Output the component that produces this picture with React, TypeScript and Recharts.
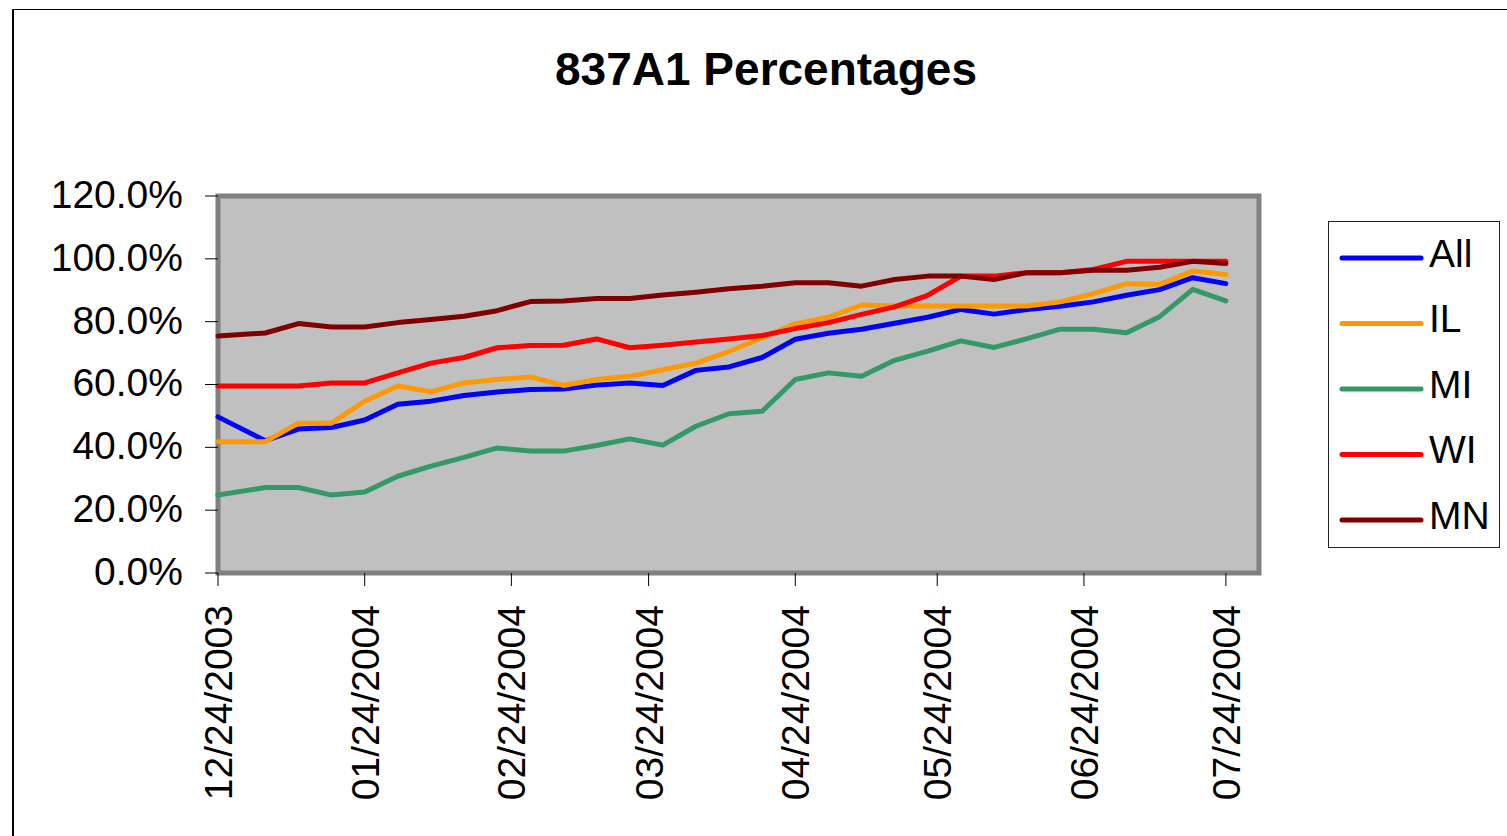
import { Legend, Line, LineChart, ReferenceArea, XAxis, YAxis } from "recharts"

const FONT = '"Liberation Sans", Arial, Helvetica, sans-serif'

// weekly report dates (first point is the baseline on 12/24/2003)
const dates = [
  "2003-12-24", "2004-01-03", "2004-01-10", "2004-01-17", "2004-01-24", "2004-01-31",
  "2004-02-07", "2004-02-14", "2004-02-21", "2004-02-28", "2004-03-06", "2004-03-13",
  "2004-03-20", "2004-03-27", "2004-04-03", "2004-04-10", "2004-04-17", "2004-04-24",
  "2004-05-01", "2004-05-08", "2004-05-15", "2004-05-22", "2004-05-29", "2004-06-05",
  "2004-06-12", "2004-06-19", "2004-06-26", "2004-07-03", "2004-07-10", "2004-07-17",
  "2004-07-24",
]

const allPct = [
  49.7, 42.1, 45.8, 46.3, 48.7, 53.7, 54.7, 56.5, 57.6, 58.4, 58.6, 59.8, 60.5, 59.7, 64.5,
  65.6, 68.6, 74.4, 76.3, 77.6, 79.5, 81.4, 83.9, 82.4, 83.9, 84.9, 86.3, 88.4, 90.2, 94.0, 92.1,
]
const ilPct = [
  41.8, 41.8, 47.7, 47.7, 54.7, 59.5, 57.7, 60.5, 61.6, 62.4, 59.7, 61.6, 62.6, 64.7, 66.8,
  70.5, 74.9, 79.3, 81.4, 85.3, 85.0, 85.0, 85.0, 85.0, 85.0, 86.3, 88.9, 92.1, 91.9, 96.1, 95.0,
]
const miPct = [
  24.8, 27.2, 27.2, 24.8, 25.8, 30.8, 34.0, 36.8, 39.8, 38.8, 38.8, 40.6, 42.7, 40.7, 46.7,
  50.7, 51.5, 61.6, 63.7, 62.6, 67.7, 70.6, 73.9, 71.8, 74.6, 77.6, 77.6, 76.5, 81.6, 90.3, 86.6,
]
const wiPct = [
  59.5, 59.5, 59.5, 60.5, 60.5, 63.7, 66.8, 68.6, 71.7, 72.4, 72.5, 74.5, 71.7, 72.5, 73.5,
  74.5, 75.6, 77.8, 79.7, 82.3, 84.7, 88.4, 94.5, 94.5, 95.6, 95.6, 96.6, 99.2, 99.2, 99.2, 99.2,
]
const mnPct = [
  75.4, 76.4, 79.4, 78.3, 78.3, 79.7, 80.7, 81.7, 83.5, 86.4, 86.6, 87.4, 87.4, 88.5, 89.4,
  90.5, 91.3, 92.4, 92.4, 91.3, 93.4, 94.5, 94.5, 93.4, 95.6, 95.6, 96.4, 96.4, 97.3, 99.2, 98.5,
]

const seriesNames = ["All", "IL", "MI", "WI", "MN"]
const seriesColors = ["#0000FF", "#FF9900", "#339966", "#FF0000", "#800000"]
const seriesValues = [allPct, ilPct, miPct, wiPct, mnPct]

const monthTicks = [
  "2003-12-24", "2004-01-24", "2004-02-24", "2004-03-24",
  "2004-04-24", "2004-05-24", "2004-06-24", "2004-07-24",
]
const axisEnd = "2004-07-31"
const yTicks = [0, 20, 40, 60, 80, 100, 120]

const toDay = (iso: string) => {
  const [y, m, d] = iso.split("-").map(Number)
  const [y0, m0, d0] = dates[0].split("-").map(Number)
  return Math.round((Date.UTC(y, m - 1, d) - Date.UTC(y0, m0 - 1, d0)) / 86400000)
}

const fromDay = (day: number) => {
  const [y0, m0, d0] = dates[0].split("-").map(Number)
  const dt = new Date(Date.UTC(y0, m0 - 1, d0) + day * 86400000)
  const mm = String(dt.getUTCMonth() + 1).padStart(2, "0")
  const dd = String(dt.getUTCDate()).padStart(2, "0")
  return `${mm}/${dd}/${dt.getUTCFullYear()}`
}

const data = dates.map((date, i) => {
  const row: Record<string, number> = { day: toDay(date) }
  seriesNames.forEach((name, s) => {
    row[name] = seriesValues[s][i]
  })
  return row
})

const DateTick = (props: any) => {
  const { x, y, payload } = props
  return (
    <text
      x={x}
      y={y}
      transform={`rotate(-90, ${x}, ${y})`}
      textAnchor="end"
      dy="0.36em"
      fontSize={39}
      fontFamily={FONT}
      fill="#000"
    >
      {fromDay(payload.value)}
    </text>
  )
}

const LegendBox = (props: any) => {
  const items = [...(props.payload ?? [])].sort(
    (a: any, b: any) => seriesNames.indexOf(a.value) - seriesNames.indexOf(b.value),
  )
  return (
    <svg width={172} height={327} style={{ display: "block" }}>
      <rect x={0.5} y={0.5} width={171} height={326} fill="#fff" stroke="#222" strokeWidth={1} />
      {items.map((item: any, i: number) => {
        const cy = 37 + i * 65.5
        return (
          <g key={item.value}>
            <line x1={14} x2={93} y1={cy} y2={cy} stroke={item.color} strokeWidth={5} strokeLinecap="round" />
            <text x={101} y={cy + 8.5} fontSize={39} fontFamily={FONT} fill="#000">
              {item.value}
            </text>
          </g>
        )
      })}
    </svg>
  )
}

export default function App() {
  return (
    <div
      style={{
        position: "absolute",
        left: 0,
        top: 0,
        width: 1507,
        height: 836,
        overflow: "hidden",
        background: "#fff",
        fontFamily: FONT,
      }}
    >
      <div
        style={{
          position: "absolute",
          left: 12,
          top: 9,
          width: 1600,
          height: 1000,
          borderTop: "1px solid #000",
          borderLeft: "2px solid #000",
        }}
      />
      <div
        style={{
          position: "absolute",
          left: 0,
          top: 46,
          width: 1532,
          textAlign: "center",
          fontSize: 46,
          lineHeight: "46px",
          fontWeight: "bold",
          color: "#000",
        }}
      >
        837A1 Percentages
      </div>
      <div style={{ position: "absolute", left: 0, top: 0 }}>
        <LineChart width={1507} height={836} data={data} margin={{ top: 196, right: 248, bottom: 0, left: 0 }}>
          <XAxis
            dataKey="day"
            type="number"
            domain={[0, toDay(axisEnd)]}
            ticks={monthTicks.map(toDay)}
            interval={0}
            height={263}
            axisLine={false}
            tickLine={{ stroke: "#000", strokeWidth: 1 }}
            tickSize={13}
            tickMargin={19}
            tick={<DateTick />}
          />
          <YAxis
            type="number"
            domain={[0, 120]}
            ticks={yTicks}
            interval={0}
            width={218}
            axisLine={false}
            tickLine={{ stroke: "#000", strokeWidth: 1 }}
            tickSize={13}
            tickMargin={22}
            tickFormatter={(v: number) => `${v.toFixed(1)}%`}
            tick={{ fill: "#000", fontSize: 39, fontFamily: FONT, dy: -2 }}
          />
          <ReferenceArea
            x1={0}
            x2={toDay(axisEnd)}
            y1={0}
            y2={120}
            fill="#C0C0C0"
            fillOpacity={1}
            stroke="#808080"
            strokeWidth={5}
          />
          <Legend
            layout="horizontal"
            verticalAlign="middle"
            align="center"
            wrapperStyle={{ left: 1328, top: 221, width: 172, height: 327 }}
            content={<LegendBox />}
          />
          {seriesNames.map((name, s) => (
            <Line
              key={name}
              type="linear"
              dataKey={name}
              name={name}
              stroke={seriesColors[s]}
              strokeWidth={5}
              strokeLinejoin="round"
              strokeLinecap="round"
              dot={false}
              activeDot={false}
              isAnimationActive={false}
            />
          ))}
        </LineChart>
      </div>
    </div>
  )
}
